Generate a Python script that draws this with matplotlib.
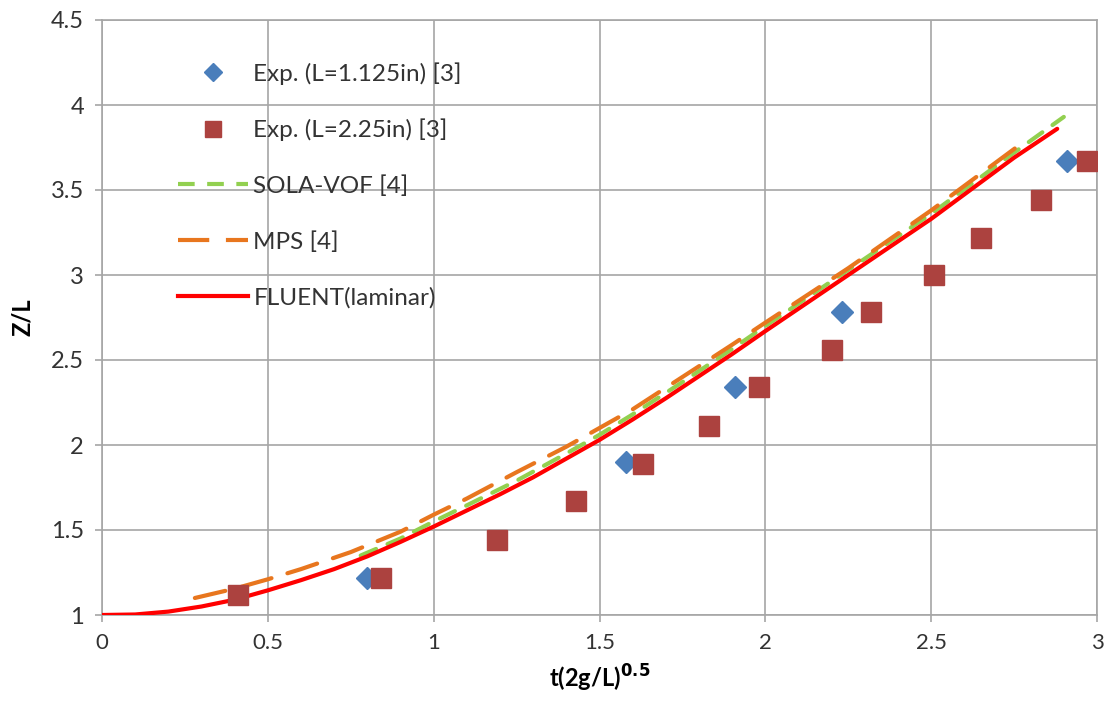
import matplotlib
matplotlib.use("Agg")
import matplotlib.pyplot as plt
from matplotlib.lines import Line2D

plt.rcParams['font.family'] = ['Lato', 'DejaVu Sans']

# Experimental data
exp1_x = [0.80, 1.58, 1.91, 2.23, 2.91]
exp1_y = [1.22, 1.90, 2.34, 2.78, 3.67]
exp2_x = [0.41, 0.84, 1.19, 1.43, 1.63, 1.83, 1.98, 2.20, 2.32, 2.51, 2.65, 2.83, 2.97]
exp2_y = [1.12, 1.22, 1.44, 1.67, 1.89, 2.11, 2.34, 2.56, 2.78, 3.00, 3.22, 3.44, 3.67]

# Simulations
sola_x = [0.78, 0.9, 1.0, 1.1, 1.25, 1.4, 1.5, 1.6, 1.75, 1.9, 2.0, 2.25, 2.5, 2.75, 2.90]
sola_y = [1.35, 1.45, 1.55, 1.645, 1.79, 1.95, 2.06, 2.18, 2.37, 2.565, 2.70, 3.03, 3.36, 3.72, 3.93]
mps_x = [0.28, 0.4, 0.5, 0.6, 0.75, 0.9, 1.0, 1.1, 1.25, 1.4, 1.5, 1.6, 1.75, 1.9, 2.0, 2.25, 2.5, 2.77]
mps_y = [1.10, 1.155, 1.21, 1.27, 1.37, 1.49, 1.59, 1.685, 1.84, 1.99, 2.10, 2.21, 2.40, 2.59, 2.72, 3.04, 3.38, 3.77]
fluent_x = [0.0, 0.1, 0.2, 0.3, 0.4, 0.5, 0.6, 0.7, 0.8, 0.9, 1.0, 1.1, 1.2, 1.3, 1.4,
            1.5, 1.6, 1.7, 1.8, 1.9, 2.0, 2.25, 2.5, 2.75, 2.88]
fluent_y = [1.0, 1.003, 1.02, 1.05, 1.09, 1.145, 1.205, 1.27, 1.345, 1.43, 1.52, 1.615, 1.71, 1.81, 1.92,
            2.03, 2.15, 2.275, 2.405, 2.535, 2.67, 3.0, 3.33, 3.69, 3.86]

labels = ["Exp. (L=1.125in) [3]", "Exp. (L=2.25in) [3]", "SOLA-VOF [4]", "MPS [4]", "FLUENT(laminar)"]
xticks = [0, 0.5, 1, 1.5, 2, 2.5, 3]
yticks = [1, 1.5, 2, 2.5, 3, 3.5, 4, 4.5]

fig = plt.figure(figsize=(11.13, 7.02), dpi=100)
ax = fig.add_axes([102/1113, 1-615/702, 995/1113, 595/702])

c_blue = '#4A7EBB'
c_sq = '#AC423F'
c_green = '#92D050'
c_orange = '#E8761E'
c_red = '#FF0000'

ax.plot(sola_x, sola_y, color=c_green, lw=3, dashes=(4, 3), zorder=3, dash_capstyle='round')
ax.plot(mps_x, mps_y, color=c_orange, lw=3, dashes=(7.5, 4), zorder=4, dash_capstyle='round')
ax.plot(fluent_x, fluent_y, color=c_red, lw=3, zorder=5, solid_capstyle='round')
ax.plot(exp1_x, exp1_y, 'D', color=c_blue, ms=11, mec=c_blue, zorder=6, ls='none')
ax.plot(exp2_x, exp2_y, 's', color=c_sq, ms=14, mec=c_sq, zorder=7, ls='none')

ax.set_xlim(0, 3)
ax.set_ylim(1, 4.5)
ax.set_xticks(xticks)
ax.set_yticks(yticks)
ax.set_xticklabels([f"{t:g}" for t in xticks])
ax.set_yticklabels([f"{t:g}" for t in yticks])
ax.grid(True, color='#A6A6A6', lw=1.2)
ax.set_axisbelow(True)
for s in ax.spines.values():
    s.set_color('#A6A6A6')
    s.set_linewidth(1.2)
ax.tick_params(axis='y', labelsize=17)
ax.tick_params(axis='x', labelsize=16)
ax.tick_params(axis='both', direction='out', length=5, width=1.2, color='#A6A6A6',
               labelcolor='#333333', pad=8)

ax.set_xlabel(r"t(2g/L)$^{\mathbf{0.5}}$", fontsize=17, fontweight='bold', labelpad=7)
ax.set_ylabel("Z/L", fontsize=17, fontweight='bold', labelpad=12)

handles = [
    Line2D([], [], marker='D', color=c_blue, ls='none', ms=9),
    Line2D([], [], marker='s', color=c_sq, ls='none', ms=12),
    Line2D([], [], color=c_green, lw=3, dashes=(4, 3)),
    Line2D([], [], color=c_orange, lw=3, dashes=(7.5, 4)),
    Line2D([], [], color=c_red, lw=3),
]
leg = ax.legend(handles, labels, loc='upper left', bbox_to_anchor=((178-102)/995, (615-62)/595),
                frameon=False, fontsize=17.5, labelspacing=1.4, handlelength=2.9,
                handletextpad=0.2, borderpad=0, borderaxespad=0, numpoints=1)
for t in leg.get_texts():
    t.set_color('#333333')

fig.savefig("out.png", dpi=100)
